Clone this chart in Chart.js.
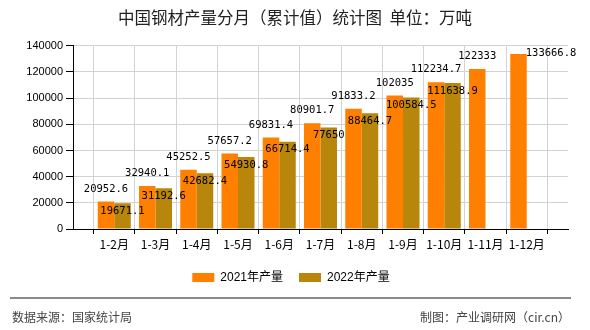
<!DOCTYPE html>
<html><head><meta charset="utf-8">
<script src="https://cdn.jsdelivr.net/npm/chart.js@4.4.0/dist/chart.umd.min.js"></script>
<style>
html,body{margin:0;padding:0;background:#fff;}
#wrap{position:relative;width:590px;height:330px;overflow:hidden;background:#fff;}
#c{position:absolute;left:0;top:0;}
.rule{position:absolute;left:10px;top:297px;width:561px;height:0;border-top:2px solid #8a8a8a;}
.foot{position:absolute;top:309px;font:12px "Noto Sans CJK SC",sans-serif;color:#444;line-height:16px;white-space:nowrap;}
</style></head><body>
<div id="wrap"><canvas id="c" width="590" height="330"></canvas>
<div class="rule"></div>
<div class="foot" style="left:12px">数据来源：国家统计局</div>
<div class="foot" style="right:20px">制图：产业调研网（cir.cn）</div>
</div>
<script>
const titleText = '中国钢材产量分月（累计值）统计图  单位：万吨';
const categories = ['1-2月','1-3月','1-4月','1-5月','1-6月','1-7月','1-8月','1-9月','1-10月','1-11月','1-12月'];
const seriesNames = ['2021年产量','2022年产量'];
const output2021 = [20952.6,32940.1,45252.5,57657.2,69831.4,80901.7,91833.2,102035,112234.7,122333,133666.8];
const output2022 = [19671.1,31192.6,42682.4,54930.8,66714.4,77650,88464.7,100584.5,111638.9,null,null];
const yTicks = [0,20000,40000,60000,80000,100000,120000,140000];
const colors = ['#FF8000','#B8860B'];

// padded so the category axis has an empty slot at each end
const labels = [''].concat(categories, ['']);
const pad = arr => [null].concat(arr, [null]);

const valueLabels = {
  id: 'valueLabels',
  afterDatasetsDraw(chart) {
    const ctx = chart.ctx;
    ctx.save();
    ctx.font = '10.5px "DejaVu Sans Mono", monospace';
    ctx.fillStyle = '#000';
    ctx.textBaseline = 'middle';
    chart.data.datasets.forEach((ds, di) => {
      const meta = chart.getDatasetMeta(di);
      let last = -1;
      ds.data.forEach((v, i) => { if (v != null) last = i; });
      meta.data.forEach((bar, i) => {
        const v = ds.data[i];
        if (v == null) return;
        const txt = String(v);
        if (di === 0) {
          if (i === last && i === labels.length - 2) {
            ctx.textAlign = 'left';
            ctx.fillText(txt, bar.x + bar.width / 2 - 1, bar.y - 1);
          } else {
            ctx.textAlign = 'center';
            ctx.fillText(txt, bar.x, bar.y - 12.5);
          }
        } else {
          ctx.textAlign = 'center';
          ctx.fillText(txt, bar.x, bar.y + 8);
        }
      });
    });
    ctx.restore();
  }
};

const shiftBoxes = {
  id: 'shiftBoxes',
  afterLayout(chart) {
    if (chart.titleBlock) { chart.titleBlock.left = 0; chart.titleBlock.right = 590; }
    if (chart.legend) { chart.legend.left = 0; chart.legend.right = 582; }
  }
};

new Chart(document.getElementById('c'), {
  type: 'bar',
  data: {
    labels: labels,
    datasets: [
      { label: seriesNames[0], data: pad(output2021), backgroundColor: colors[0], borderWidth: 0 },
      { label: seriesNames[1], data: pad(output2022), backgroundColor: colors[1], borderWidth: 0 }
    ]
  },
  options: {
    responsive: false,
    animation: false,
    layout: { padding: { left: 0, right: 22, top: 0, bottom: 36.5 } },
    datasets: { bar: { categoryPercentage: 0.8, barPercentage: 1.0 } },
    plugins: {
      title: {
        display: true, text: titleText, color: '#222',
        font: { size: 16.5, family: '"Noto Sans CJK SC", sans-serif', weight: 'normal' },
        padding: { top: 8, bottom: 18 }
      },
      legend: {
        position: 'bottom',
        labels: {
          boxWidth: 22, boxHeight: 9, padding: 16, color: '#000',
          font: { size: 12, family: '"Liberation Sans", "Noto Sans CJK SC", sans-serif' }
        }
      },
      tooltip: { enabled: false }
    },
    scales: {
      x: {
        offset: false,
        grid: { color: '#d3d3d3', tickColor: '#000', tickLength: 5, lineWidth: 1 },
        border: { color: '#000', width: 1 },
        ticks: {
          color: '#000', padding: 3, maxRotation: 0, autoSkip: false,
          font: { size: 12, family: '"Noto Sans CJK SC", sans-serif' }
        },
        afterFit(s) { s.height = 26.5; }
      },
      y: {
        min: 0, max: 140000,
        afterBuildTicks(s) { s.ticks = yTicks.map(v => ({ value: v })); },
        grid: { color: '#d3d3d3', tickColor: '#000', tickLength: 7 },
        border: { color: '#000', width: 1 },
        ticks: {
          color: '#000', padding: 3,
          callback: v => String(v),
          font: { size: 11, family: '"Liberation Sans", sans-serif' }
        },
        afterFit(s) { s.width = 73; }
      }
    }
  },
  plugins: [valueLabels, shiftBoxes]
});
</script>
</body></html>
